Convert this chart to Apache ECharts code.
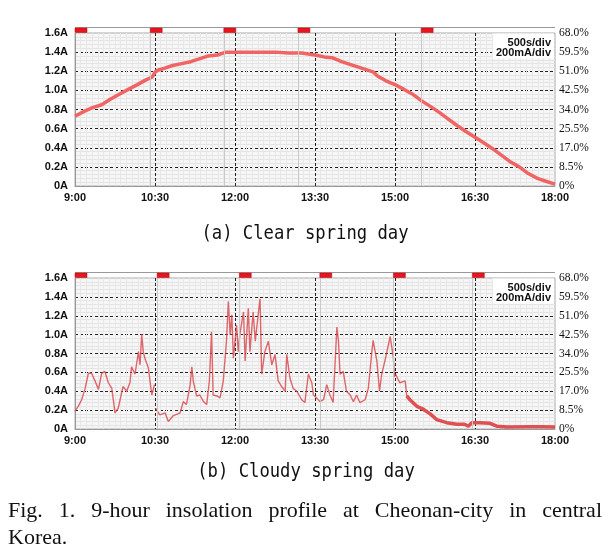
<!DOCTYPE html>
<html><head><meta charset="utf-8">
<script src="https://cdn.jsdelivr.net/npm/echarts@6/dist/echarts.min.js"></script>
<style>html,body{margin:0;padding:0;background:#fff}#c{width:609px;height:556px}</style>
</head><body><div id="c"></div>
<script>
// ---- data (hours of day, amps) ----
const clearTimes = [9.00,9.17,9.33,9.50,9.67,9.83,10.00,10.17,10.33,10.45,10.50,10.55,10.67,10.83,11.00,11.17,11.33,11.50,11.67,11.83,12.00,12.25,12.50,12.75,13.00,13.25,13.50,13.67,13.83,14.00,14.17,14.33,14.50,14.60,14.67,14.83,15.00,15.17,15.33,15.50,15.67,15.83,16.00,16.17,16.33,16.50,16.67,16.83,17.00,17.17,17.33,17.50,17.67,17.83,18.00];
const clearValues = [0.73,0.78,0.82,0.85,0.91,0.96,1.01,1.06,1.11,1.14,1.19,1.21,1.23,1.26,1.28,1.30,1.33,1.36,1.37,1.40,1.40,1.40,1.40,1.40,1.39,1.39,1.37,1.35,1.34,1.30,1.27,1.24,1.21,1.19,1.15,1.10,1.06,1.01,0.96,0.89,0.83,0.77,0.70,0.63,0.57,0.51,0.45,0.39,0.32,0.25,0.20,0.13,0.08,0.05,0.02];

const cloudyTimes = [9.00,9.06,9.125,9.19,9.25,9.31,9.375,9.44,9.50,9.56,9.625,9.69,9.75,9.81,9.90,9.97,10.03,10.06,10.125,10.19,10.22,10.25,10.28,10.31,10.375,10.44,10.49,10.50,
 10.51,10.59,10.69,10.75,10.84,10.97,11.03,11.09,11.16,11.19,11.22,11.28,11.34,11.41,11.47,11.52,11.56,11.59,11.66,11.72,11.78,11.84,11.875,11.91,11.94,11.97,12.03,12.06,12.09,12.16,12.19,12.25,12.28,12.34,12.38,12.44,12.47,12.50,12.56,12.625,12.69,12.75,12.81,12.875,12.94,12.97,13.03,13.09,13.16,13.25,13.31,13.375,13.44,13.47,13.53,13.59,13.66,13.72,13.78,13.84,13.91,13.94,13.97,14.03,14.09,14.16,14.22,14.28,14.34,14.44,14.50,14.56,14.59,14.66,14.71,14.75,14.81,14.91,14.97,14.99,15.00,
 15.01,15.09,15.19,15.22,15.28,15.41,15.53,15.66,15.78,15.97,16.16,16.30,16.375,16.44,16.59,16.78,16.91,17.10,17.53,17.75,18.00];
const cloudyValues = [0.19,0.24,0.31,0.43,0.59,0.59,0.51,0.42,0.59,0.61,0.49,0.43,0.17,0.22,0.45,0.40,0.49,0.66,0.58,0.82,0.68,1.00,0.82,0.75,0.65,0.36,0.47,null,
 0.22,0.15,0.17,0.08,0.14,0.17,0.29,0.26,0.47,0.66,0.50,0.35,0.36,0.29,0.26,0.51,1.03,0.36,0.35,0.33,0.51,0.93,1.35,1.00,1.21,0.75,1.10,0.82,1.00,1.24,0.72,1.28,0.82,1.24,0.93,1.24,1.38,0.58,0.82,0.93,0.68,0.79,0.51,0.45,0.40,0.79,0.54,0.43,0.40,0.31,0.28,0.58,0.49,0.36,0.33,0.29,0.31,0.47,0.36,0.28,1.08,0.93,0.58,0.61,0.40,0.36,0.29,0.36,0.28,0.31,0.43,0.79,0.94,0.72,0.40,0.58,0.72,0.98,0.75,0.55,null,
 0.58,0.49,0.51,0.35,0.31,0.24,0.21,0.16,0.10,0.067,0.05,0.05,0.03,0.067,0.067,0.06,0.03,0.02,0.025,0.025,0.02];

// header segment start times (each screenshot covers 5000 s)
const headerA = [9.00,10.41,11.79,13.18,15.49];
const headerB = [9.00,10.54,12.08,13.59,14.97,16.45];
const scaleText = ['500s/div','200mA/div'];
const titleA = '(a) Clear spring day';
const titleB = '(b) Cloudy spring day';
const captionLine1 = 'Fig. 1. 9-hour insolation profile at Cheonan-city in central';
const captionLine2 = 'Korea.';

const chart = echarts.init(document.getElementById('c'), null, {renderer:'canvas'});
const pair = (ts, vs) => ts.map((t,i)=>[t, vs[i]]);
const fmtTime = v => { const h=Math.floor(v+1e-9); const m=Math.round((v-h)*60); return h+':'+(m<10?'0':'')+m; };
const fmtA = v => v===0 ? '0A' : v.toFixed(1)+'A';
const fmtP = v => Math.abs(v)<1e-9 ? '0%' : v.toFixed(1)+'%';

const LBL = {fontFamily:'Liberation Sans, Arial', fontSize:11, fontWeight:'bold', color:'#111'};
function xAx(gi){ return {
  type:'value', gridIndex:gi, min:9, max:18, interval:1.5,
  axisLine:{show:true, lineStyle:{color:'#999'}}, axisTick:{show:false},
  axisLabel:Object.assign({formatter:fmtTime, margin:6}, LBL),
  splitLine:{show:true, showMinLine:false, showMaxLine:false, lineStyle:{color:'#222', type:[3,2], width:1}},
  minorTick:{show:false, splitNumber:14},
  minorSplitLine:{show:true, lineStyle:{color:'#e8e8e8', width:1}}
};}
function yA(gi){ return {
  type:'value', gridIndex:gi, min:0, max:1.6, interval:0.2, position:'left',
  axisLine:{show:true, lineStyle:{color:'#999'}}, axisTick:{show:false},
  axisLabel:Object.assign({formatter:fmtA, margin:7}, LBL),
  splitLine:{show:true, showMinLine:false, showMaxLine:false, lineStyle:{color:'#222', type:[3,2], width:1}},
  minorTick:{show:false, splitNumber:5},
  minorSplitLine:{show:true, lineStyle:{color:'#e4e4e4', width:1}}
};}
function yP(gi){ return {
  type:'value', gridIndex:gi, min:0, max:68, interval:8.5, position:'right',
  axisLine:{show:false}, axisTick:{show:false}, splitLine:{show:false},
  axisLabel:{formatter:fmtP, margin:4, fontFamily:'Liberation Serif, serif', fontSize:11.5, color:'#111'}
};}

const cloudyPairs = pair(cloudyTimes, cloudyValues);
const tailPairs = cloudyPairs.filter(p => p[0] >= 15.2);

function boundaryLines(arr){
  return {silent:true, symbol:'none', label:{show:false},
    lineStyle:{color:'#c8c8c8', type:'solid', width:1},
    data: arr.slice(1).map(t=>({xAxis:t}))};
}

chart.setOption({
  animation:false,
  backgroundColor:'#fff',
  grid:[
    {left:75, top:33, width:480, height:153, show:true, backgroundColor:'#f6f6f6', borderColor:'#aaa', borderWidth:1},
    {left:75, top:278, width:480, height:151, show:true, backgroundColor:'#f6f6f6', borderColor:'#aaa', borderWidth:1}
  ],
  xAxis:[xAx(0), xAx(1)],
  yAxis:[yA(0), yP(0), yA(1), yP(1)],
  series:[
    {type:'line', xAxisIndex:0, yAxisIndex:0, data:pair(clearTimes, clearValues), showSymbol:false,
     lineStyle:{color:'#f06464', width:3.5}, markLine:boundaryLines(headerA), z:3},
    {type:'line', xAxisIndex:1, yAxisIndex:2, data:cloudyPairs, showSymbol:false, connectNulls:false,
     lineStyle:{color:'#d9434a', width:1.4, opacity:0.8}, markLine:boundaryLines(headerB), z:3},
    {type:'line', xAxisIndex:1, yAxisIndex:2, data:tailPairs, showSymbol:false,
     lineStyle:{color:'#e05050', width:3.5}, z:4}
  ]
});

// ---- decorations: header strips, scale box, captions ----
const g = [];
function header(gi, arr){
  const top = chart.convertToPixel({xAxisIndex:gi*1, yAxisIndex:gi*2}, [9, 1.6]);
  const right = chart.convertToPixel({xAxisIndex:gi*1, yAxisIndex:gi*2}, [18, 1.6]);
  g.push({type:'line', shape:{x1:top[0], y1:top[1]-5.5, x2:right[0], y2:top[1]-5.5}, style:{stroke:'#999', lineWidth:1}});
  arr.forEach(t=>{
    const p = chart.convertToPixel({xAxisIndex:gi*1, yAxisIndex:gi*2}, [t, 1.6]);
    const p2 = chart.convertToPixel({xAxisIndex:gi*1, yAxisIndex:gi*2}, [t+0.225, 1.6]);
    g.push({type:'rect', shape:{x:p[0], y:p[1]-5, width:p2[0]-p[0], height:4.5}, style:{fill:'#e81520', stroke:'#b00', lineWidth:0.5}});
  });
  const bx = right[0]-62, by = right[1];
  g.push({type:'rect', shape:{x:bx, y:by+0.5, width:61, height:25}, style:{fill:'#fff'}});
  g.push({type:'text', x:right[0]-4, y:by+10, style:{text:scaleText[0], align:'right', verticalAlign:'middle', font:'bold 11px "Liberation Sans", Arial', fill:'#111'}});
  g.push({type:'text', x:right[0]-4, y:by+20, style:{text:scaleText[1], align:'right', verticalAlign:'middle', font:'bold 11px "Liberation Sans", Arial', fill:'#111'}});
}
header(0, headerA);
header(1, headerB);

function title(txt, cx, cy){
  g.push({type:'text', x:cx, y:cy, scaleX:0.86, originX:0, originY:0,
    style:{text:txt, align:'center', verticalAlign:'middle', font:'20px "DejaVu Sans Mono", monospace', fill:'#111'}});
}
title(titleA, 305, 234);
title(titleB, 306, 472);

const capFont = '22px "Liberation Serif", "Times New Roman", serif';
const cv = document.createElement('canvas').getContext('2d'); cv.font = capFont;
function justify(line, x0, x1, y){
  const words = line.split(' ');
  const ws = words.map(w=>cv.measureText(w).width);
  const total = ws.reduce((a,b)=>a+b,0);
  const gap = (x1-x0-total)/(words.length-1);
  let x = x0;
  words.forEach((w,i)=>{
    g.push({type:'text', x:x, y:y, style:{text:w, align:'left', verticalAlign:'middle', font:capFont, fill:'#111'}});
    x += ws[i]+gap;
  });
}
justify(captionLine1, 8, 602, 511);
g.push({type:'text', x:8, y:538, style:{text:captionLine2, align:'left', verticalAlign:'middle', font:capFont, fill:'#111'}});

chart.setOption({graphic:g});
</script></body></html>
